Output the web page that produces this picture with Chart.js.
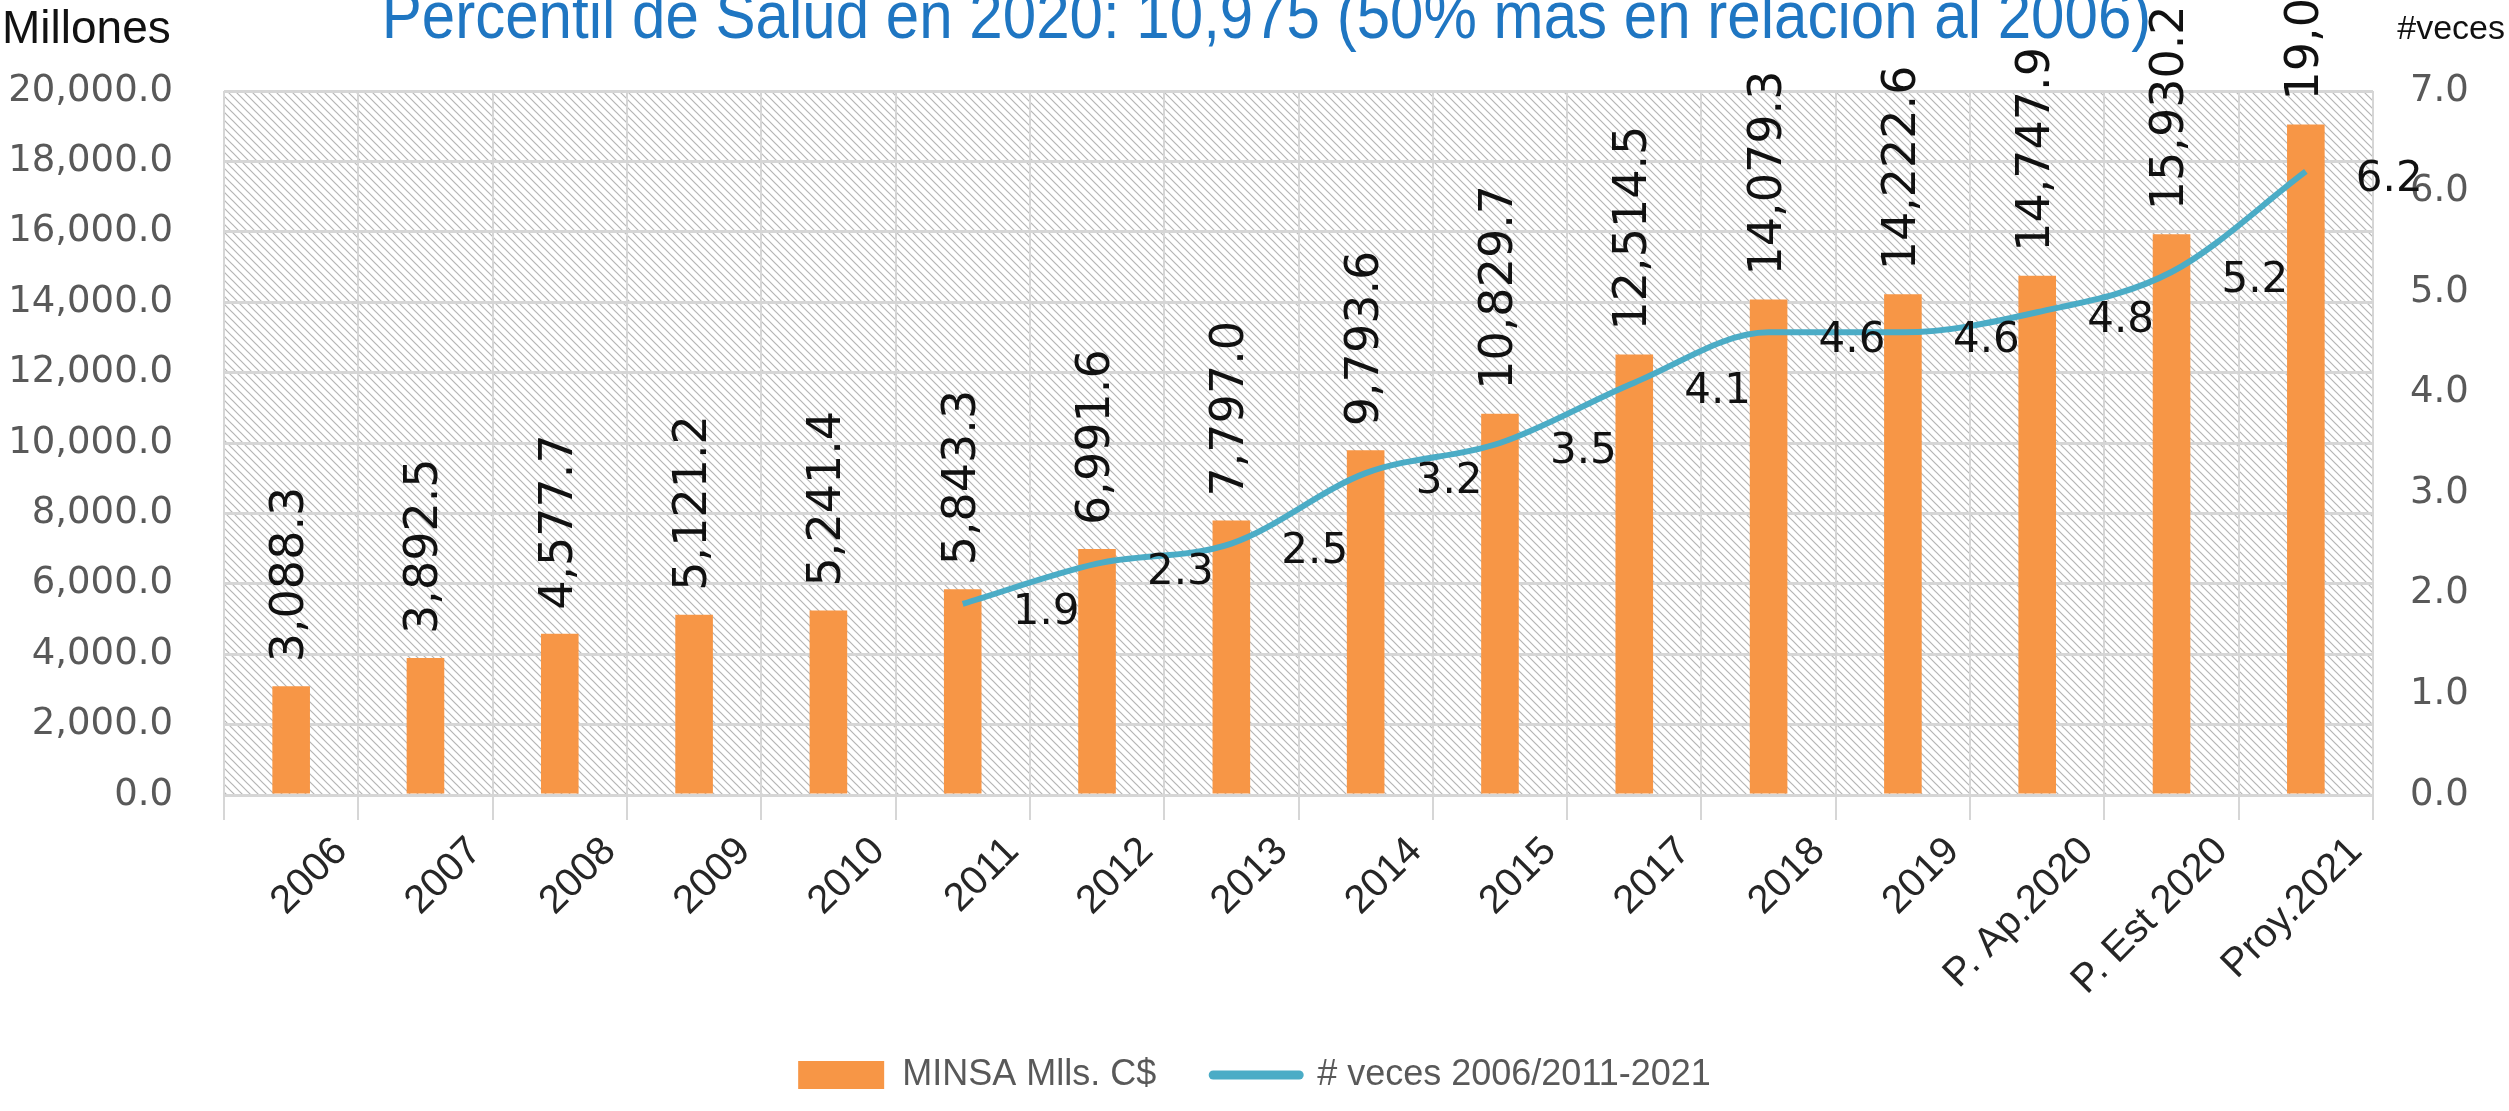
<!DOCTYPE html>
<html>
<head>
<meta charset="utf-8">
<script src="https://cdn.jsdelivr.net/npm/chart.js@4.4.1/dist/chart.umd.min.js"></script>
<style>
  html, body { margin: 0; padding: 0; background: #fff; }
  #wrap { width: 2509px; height: 1111px; }
</style>
</head>
<body>
<div id="wrap"><canvas id="minsaChart" width="2509" height="1111"></canvas></div>
<script>
// Chart data
const categories = ['2006', '2007', '2008', '2009', '2010', '2011', '2012', '2013', '2014', '2015',
    '2017', '2018', '2019', 'P. Ap.2020', 'P. Est 2020', 'Proy.2021'];
const minsaMills = [3088.3, 3892.5, 4577.7, 5121.2, 5241.4, 5843.3, 6991.6, 7797.0, 9793.6, 10829.7,
    12514.5, 14079.3, 14222.6, 14747.9, 15930.2, 19050.0];
const vecesValues = [null, null, null, null, null, 1.9, 2.3, 2.5, 3.2, 3.5,
    4.1, 4.6, 4.6, 4.8, 5.2, 6.2];
const leftTicks = [0, 2000, 4000, 6000, 8000, 10000, 12000, 14000, 16000, 18000, 20000];
const rightTicks = [0, 1, 2, 3, 4, 5, 6, 7];

const titleText = 'Percentil de Salud en 2020: 10,975 (50% más en relación al 2006)';

const numFont = '"DejaVu Sans", Verdana, sans-serif';
const textFont = '"Liberation Sans", Arial, sans-serif';

const fmt1 = v => v.toLocaleString('en-US', { minimumFractionDigits: 1, maximumFractionDigits: 1 });

// diagonal hatch used as plot background
function makeHatch(ctx) {
    const s = 8;
    const tile = document.createElement('canvas');
    tile.width = s;
    tile.height = s;
    const t = tile.getContext('2d');
    t.strokeStyle = '#b5b5b5';
    t.lineWidth = 1.2;
    t.beginPath();
    t.moveTo(0, 0); t.lineTo(s, s);
    t.moveTo(-1, s - 1); t.lineTo(1, s + 1);
    t.moveTo(s - 1, -1); t.lineTo(s + 1, 1);
    t.stroke();
    return ctx.createPattern(tile, 'repeat');
}

const extras = {
    id: 'extras',
    beforeDraw(chart) {
        const { ctx, chartArea: a } = chart;
        ctx.save();
        ctx.fillStyle = makeHatch(ctx);
        ctx.fillRect(a.left, a.top, a.right - a.left, a.bottom - a.top);
        ctx.restore();
    },
    afterDatasetsDraw(chart) {
        const ctx = chart.ctx;
        ctx.save();
        ctx.fillStyle = '#111';
        ctx.font = '46px ' + numFont;
        ctx.textAlign = 'left';
        ctx.textBaseline = 'middle';
        chart.getDatasetMeta(0).data.forEach((bar, i) => {
            ctx.save();
            ctx.translate(bar.x, bar.y - 24);
            ctx.rotate(-Math.PI / 2);
            ctx.fillText(fmt1(minsaMills[i]), 0, 0);
            ctx.restore();
        });
        ctx.font = '42px ' + numFont;
        chart.getDatasetMeta(1).data.forEach((pt, i) => {
            if (vecesValues[i] == null) return;
            ctx.fillText(vecesValues[i].toFixed(1), pt.x + 50, pt.y + 9);
        });
        ctx.restore();
    },
    afterDraw(chart) {
        const ctx = chart.ctx;
        ctx.save();
        // title is cut off at the top of the picture, as in the original
        ctx.fillStyle = '#1f76c2';
        ctx.font = '66px ' + textFont;
        ctx.textAlign = 'center';
        ctx.textBaseline = 'alphabetic';
        ctx.save();
        ctx.translate(chart.width / 2 + 12, 38);
        ctx.scale(0.91, 1);
        ctx.fillText(titleText, 0, 0);
        ctx.restore();

        ctx.fillStyle = '#111';
        ctx.textBaseline = 'middle';
        ctx.textAlign = 'left';
        ctx.font = '46px ' + textFont;
        ctx.fillText('Millones', 2, 30);
        ctx.textAlign = 'right';
        ctx.font = '34px ' + textFont;
        ctx.fillText('#veces', chart.width - 4, 30);
        ctx.restore();
    }
};

const ctx = document.getElementById('minsaChart').getContext('2d');
new Chart(ctx, {
    data: {
        labels: categories,
        datasets: [{
            type: 'bar',
            label: 'MINSA Mlls. C$',
            data: minsaMills,
            backgroundColor: '#f79646',
            categoryPercentage: 1,
            barPercentage: 0.28,
            yAxisID: 'y',
            order: 1,
        }, {
            type: 'line',
            label: '# veces 2006/2011-2021',
            data: vecesValues,
            borderColor: '#4bacc6',
            backgroundColor: '#4bacc6',
            borderWidth: 6,
            pointRadius: 0,
            cubicInterpolationMode: 'monotone',
            spanGaps: false,
            yAxisID: 'y1',
            order: 0,
        }],
    },
    options: {
        responsive: false,
        devicePixelRatio: 1,
        animation: false,
        layout: { padding: { top: 91, left: 0, right: 0, bottom: 8 } },
        plugins: {
            title: { display: false },
            tooltip: { enabled: false },
            legend: {
                position: 'bottom',
                labels: {
                    usePointStyle: true,
                    pointStyleWidth: 86,
                    boxHeight: 28,
                    padding: 57,
                    color: '#595959',
                    font: { family: textFont, size: 36 },
                    generateLabels: chart => chart.data.datasets.map((ds, i) => ({
                        text: ds.label,
                        datasetIndex: i,
                        fillStyle: ds.type === 'line' ? ds.borderColor : ds.backgroundColor,
                        strokeStyle: ds.type === 'line' ? ds.borderColor : ds.backgroundColor,
                        lineWidth: ds.type === 'line' ? 9 : 0,
                        lineCap: 'round',
                        pointStyle: ds.type === 'line' ? 'line' : 'rect',
                        hidden: false,
                        fontColor: '#595959',
                    })),
                },
            },
        },
        scales: {
            x: {
                offset: true,
                grid: { offset: true, color: '#d6d6d6', lineWidth: 2, tickLength: 25 },
                border: { display: false },
                ticks: {
                    autoSkip: false,
                    maxRotation: 45,
                    minRotation: 45,
                    padding: 8,
                    labelOffset: 50,
                    color: '#262626',
                    font: { family: textFont, size: 40 },
                },
                afterFit: s => { s.height = 205; },
            },
            y: {
                position: 'left',
                min: 0,
                max: 20000,
                afterBuildTicks: s => { s.ticks = leftTicks.map(v => ({ value: v })); },
                grid: { color: '#d6d6d6', lineWidth: 3, drawTicks: false },
                border: { display: false },
                ticks: {
                    padding: 51,
                    color: '#595959',
                    font: { family: numFont, size: 37 },
                    callback: v => fmt1(v),
                },
                afterFit: s => { s.width = 224; },
            },
            y1: {
                position: 'right',
                min: 0,
                max: 7,
                afterBuildTicks: s => { s.ticks = rightTicks.map(v => ({ value: v })); },
                grid: { drawOnChartArea: false, drawTicks: false },
                border: { display: false },
                ticks: {
                    padding: 37,
                    color: '#595959',
                    font: { family: numFont, size: 37 },
                    callback: v => v.toFixed(1),
                },
                afterFit: s => { s.width = 136; },
            },
        },
    },
    plugins: [extras],
});
</script>
</body>
</html>
